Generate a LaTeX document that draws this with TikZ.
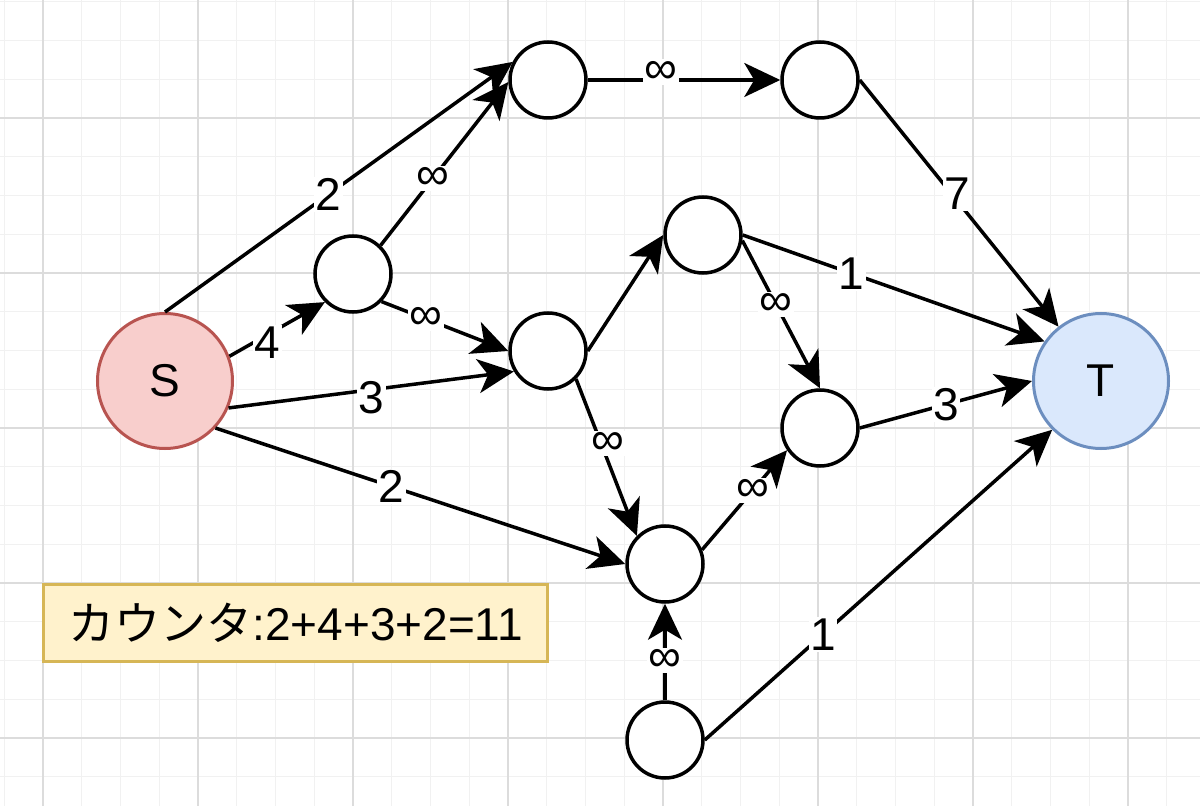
\documentclass[tikz,border=0pt]{standalone}
\usepackage{fontspec}
\setmainfont{Liberation Sans}
\newfontfamily\jpfont{Noto Sans CJK JP}
\usetikzlibrary{positioning, arrows.meta}

\definecolor{sfill}{HTML}{F8CECC}
\definecolor{sline}{HTML}{B85450}
\definecolor{tfill}{HTML}{DAE8FC}
\definecolor{tline}{HTML}{6C8EBF}
\definecolor{notefill}{HTML}{FFF2CC}
\definecolor{noteline}{HTML}{D6B656}
\definecolor{gridminor}{HTML}{F1F1F1}
\definecolor{gridmajor}{HTML}{DCDCDC}

\tikzset{
  vertex/.style={circle, draw, line width=3.5pt, fill=white, minimum size=76pt, inner sep=0pt},
  source/.style={vertex, draw=sline, fill=sfill, minimum size=135pt, line width=3pt},
  sink/.style={vertex, draw=tline, fill=tfill, minimum size=135pt, line width=3pt},
  weight/.style={fill=white, inner sep=1.5pt},
  note/.style={draw=noteline, fill=notefill, line width=3pt, minimum width=504pt, minimum height=77pt}
}

\begin{document}
\begin{tikzpicture}[on grid, font=\fontsize{46pt}{54pt}\selectfont,
  >={Stealth[length=36pt, width=34pt, inset=10pt]}]
  % paper and grid
  \useasboundingbox (-165pt,-425pt) rectangle (1035pt,381pt);
  \fill[white] (-165pt,-425pt) rectangle (1035pt,381pt);
  \draw[gridminor, line width=1pt, xshift=-160.75pt, yshift=379.25pt]
    (-4.25pt,-804.25pt) grid[step=38.75pt] (1195.75pt,1.75pt);
  \draw[gridmajor, line width=1.2pt, xshift=-122pt, yshift=263pt]
    (-43pt,-688pt) grid[step=155pt] (1157pt,118pt);

  \node[source] (S) {S};
  \node[vertex] (C) [above right=107pt and 188pt of S] {};
  \node[vertex] (A) [above right=194pt and 195pt of C] {};
  \node[vertex] (D) [below=271pt of A] {};
  \node[vertex] (B) [right=272pt of A] {};
  \node[vertex] (E) [above right=116pt and 155pt of D] {};
  \node[vertex] (F) [below=348pt of B] {};
  \node[vertex] (G) [below right=213pt and 117pt of D] {};
  \node[vertex] (H) [below=176pt of G] {};
  \node[sink] (T) [right=936pt of S] {T};
  \node[note] (cnt) [below right=242pt and 130.5pt of S] {\raisebox{-4pt}{{\jpfont カウンタ}:2+4+3+2=11}};

  \path[->, line width=3.5pt]
  (S.north) edge node[weight, pos=0.47] {2} (A.153)
    (S.21) edge node[weight, pos=0.4, yshift=-8pt] {4} (C.225)
    (S.-23) edge node[weight, pos=0.5, yshift=-8pt] {3} (D.211)
    (S.-43) edge node[weight, pos=0.43] {2} (G.west)
  (C.46) edge node[weight, pos=0.41] {∞} (A.183)
    (C.-44) edge node[weight, pos=0.35] {∞} (D.west)
  (A.east) edge node[weight, pos=0.38, yshift=8pt] {∞} (B.west)
  (B.east) edge node[weight, pos=0.46, xshift=6pt] {7} (T.128)
  (D.east) edge (E.west)
    (D.-45) edge node[weight, pos=0.41, xshift=7pt] {∞} (G.135)
  (E.east) edge node[weight, pos=0.36] {1} (T.145)
    (E.-8) edge node[weight, pos=0.43] {∞} (F.north)
  (F.east) edge node[weight, pos=0.5] {3} (T.west)
  (G.21) edge node[weight, pos=0.6] {∞} (F.214)
  (H.north) edge node[weight, pos=0.41] {∞} (G.south)
    (H.east) edge node[weight, pos=0.34] {1} (T.225);
\end{tikzpicture}
\end{document}
